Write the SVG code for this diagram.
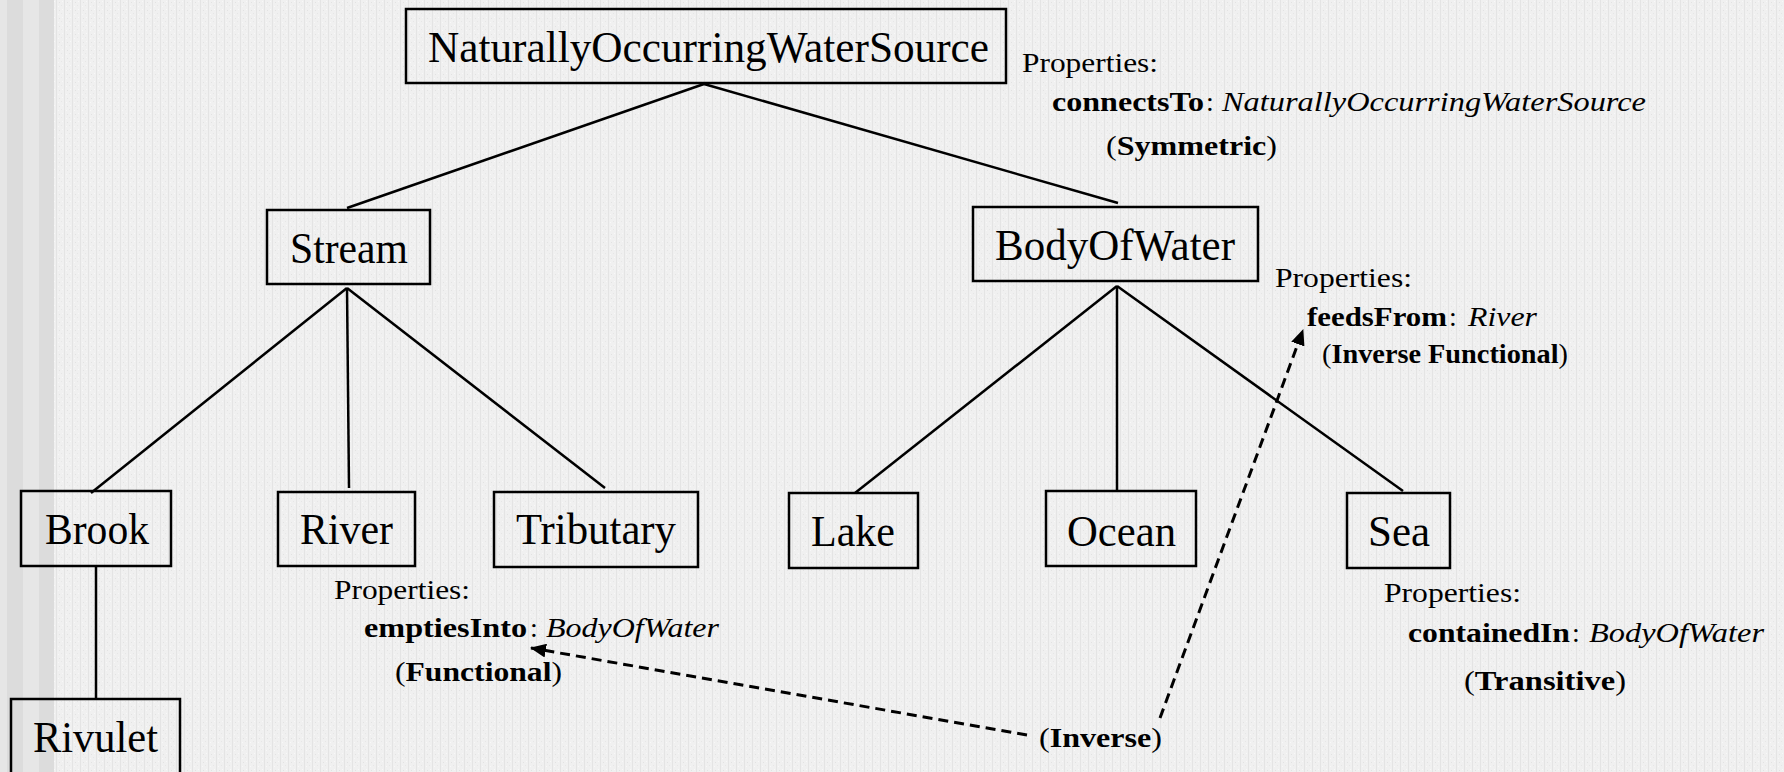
<svg xmlns="http://www.w3.org/2000/svg" width="1784" height="772" viewBox="0 0 1784 772">
<defs>
<pattern id="tex" width="8" height="8" patternUnits="userSpaceOnUse">
<rect width="8" height="8" fill="#f0f0f0"/>
<rect x="0" y="0" width="1" height="8" fill="#e4e4e4"/>
<rect x="3" y="2" width="1" height="1" fill="#e2e2e2"/>
<rect x="5" y="5" width="1" height="1" fill="#e6e6e6"/>
<rect x="6" y="1" width="1" height="1" fill="#f8f8f8"/>
<rect x="2" y="6" width="1" height="1" fill="#f8f8f8"/>
</pattern>
<marker id="ah" markerUnits="userSpaceOnUse" markerWidth="16" markerHeight="14" refX="15" refY="7" orient="auto">
<path d="M0,0 L16,7 L0,14 z" fill="#000"/>
</marker>
<style>
.box{fill:none;stroke:#000;stroke-width:2.5}
.ln{stroke:#000;stroke-width:2.5;fill:none}
.dash{stroke:#000;stroke-width:3;fill:none;stroke-dasharray:10 6}
.lbl{font-family:"Liberation Serif","Times New Roman",Tinos,serif;font-size:44px;fill:#000}
.pt{font-family:"Liberation Serif","Times New Roman",Tinos,serif;font-size:28px;fill:#000}
.b{font-weight:bold}
.i{font-style:italic}
</style>
</defs>
<rect width="1784" height="772" fill="url(#tex)"/>
<rect x="0" y="0" width="7" height="772" fill="#e6e6e6"/>
<rect x="7" y="0" width="16" height="772" fill="#dcdcdc"/>
<rect x="23" y="0" width="16" height="772" fill="#e6e6e6"/>
<rect x="39" y="0" width="15" height="772" fill="#dcdcdc"/>

<g id="connectors">
<line class="ln" x1="704" y1="84" x2="347" y2="208"/>
<line class="ln" x1="704" y1="84" x2="1118" y2="203"/>
<line class="ln" x1="347" y1="288" x2="91" y2="493"/>
<line class="ln" x1="347" y1="288" x2="349" y2="488"/>
<line class="ln" x1="347" y1="288" x2="605" y2="488"/>
<line class="ln" x1="1117" y1="286" x2="855" y2="493"/>
<line class="ln" x1="1117" y1="286" x2="1117" y2="491"/>
<line class="ln" x1="1117" y1="286" x2="1403" y2="491"/>
<line class="ln" x1="96" y1="566" x2="96" y2="699"/>
<line class="dash" x1="1027" y1="735" x2="531" y2="648" marker-end="url(#ah)"/>
<line class="dash" x1="1160" y1="718" x2="1303" y2="330" marker-end="url(#ah)"/>
</g>

<g id="node-nows">
<rect class="box" x="406" y="9" width="600" height="74"/>
<text class="lbl" x="428" y="62" textLength="561" lengthAdjust="spacingAndGlyphs">NaturallyOccurringWaterSource</text>
</g>
<g id="node-stream">
<rect class="box" x="267" y="210" width="163" height="74"/>
<text class="lbl" x="290" y="263" textLength="118" lengthAdjust="spacingAndGlyphs">Stream</text>
</g>
<g id="node-bodyofwater">
<rect class="box" x="973" y="207" width="285" height="74"/>
<text class="lbl" x="995" y="260" textLength="240" lengthAdjust="spacingAndGlyphs">BodyOfWater</text>
</g>
<g id="node-brook">
<rect class="box" x="21" y="491" width="150" height="75"/>
<text class="lbl" x="45" y="544" textLength="104" lengthAdjust="spacingAndGlyphs">Brook</text>
</g>
<g id="node-river">
<rect class="box" x="278" y="492" width="137" height="74"/>
<text class="lbl" x="300" y="544" textLength="93" lengthAdjust="spacingAndGlyphs">River</text>
</g>
<g id="node-tributary">
<rect class="box" x="494" y="492" width="204" height="75"/>
<text class="lbl" x="516" y="544" textLength="160" lengthAdjust="spacingAndGlyphs">Tributary</text>
</g>
<g id="node-lake">
<rect class="box" x="789" y="493" width="129" height="75"/>
<text class="lbl" x="811" y="546" textLength="84" lengthAdjust="spacingAndGlyphs">Lake</text>
</g>
<g id="node-ocean">
<rect class="box" x="1046" y="491" width="150" height="75"/>
<text class="lbl" x="1067" y="546" textLength="109" lengthAdjust="spacingAndGlyphs">Ocean</text>
</g>
<g id="node-sea">
<rect class="box" x="1347" y="493" width="103" height="75"/>
<text class="lbl" x="1368" y="546" textLength="62" lengthAdjust="spacingAndGlyphs">Sea</text>
</g>
<g id="node-rivulet">
<rect class="box" x="11" y="699" width="169" height="80"/>
<text class="lbl" x="33" y="752" textLength="125" lengthAdjust="spacingAndGlyphs">Rivulet</text>
</g>

<g id="props-nows">
<text class="pt" x="1022" y="72" textLength="136" lengthAdjust="spacingAndGlyphs">Properties:</text>
<text class="pt b" x="1052" y="111" textLength="152" lengthAdjust="spacingAndGlyphs">connectsTo</text>
<text class="pt" x="1206" y="111">:</text>
<text class="pt i" x="1222" y="111" textLength="424" lengthAdjust="spacingAndGlyphs">NaturallyOccurringWaterSource</text>
<text class="pt" x="1106" y="155" textLength="171" lengthAdjust="spacingAndGlyphs">(<tspan class="b">Symmetric</tspan>)</text>
</g>
<g id="props-bodyofwater">
<text class="pt" x="1275" y="287" textLength="137" lengthAdjust="spacingAndGlyphs">Properties:</text>
<text class="pt b" x="1307" y="326" textLength="140" lengthAdjust="spacingAndGlyphs">feedsFrom</text>
<text class="pt" x="1449" y="326">:</text>
<text class="pt i" x="1468" y="326" textLength="69" lengthAdjust="spacingAndGlyphs">River</text>
<text class="pt" x="1322" y="363" textLength="246" lengthAdjust="spacingAndGlyphs">(<tspan class="b">Inverse Functional</tspan>)</text>
</g>
<g id="props-river">
<text class="pt" x="334" y="599" textLength="136" lengthAdjust="spacingAndGlyphs">Properties:</text>
<text class="pt b" x="364" y="637" textLength="163" lengthAdjust="spacingAndGlyphs">emptiesInto</text>
<text class="pt" x="530" y="637">:</text>
<text class="pt i" x="546" y="637" textLength="173" lengthAdjust="spacingAndGlyphs">BodyOfWater</text>
<text class="pt" x="395" y="681" textLength="167" lengthAdjust="spacingAndGlyphs">(<tspan class="b">Functional</tspan>)</text>
</g>
<g id="props-sea">
<text class="pt" x="1384" y="602" textLength="137" lengthAdjust="spacingAndGlyphs">Properties:</text>
<text class="pt b" x="1408" y="642" textLength="162" lengthAdjust="spacingAndGlyphs">containedIn</text>
<text class="pt" x="1572" y="642">:</text>
<text class="pt i" x="1589" y="642" textLength="175" lengthAdjust="spacingAndGlyphs">BodyOfWater</text>
<text class="pt" x="1464" y="690" textLength="162" lengthAdjust="spacingAndGlyphs">(<tspan class="b">Transitive</tspan>)</text>
</g>
<g id="label-inverse">
<text class="pt" x="1039" y="747" textLength="123" lengthAdjust="spacingAndGlyphs">(<tspan class="b">Inverse</tspan>)</text>
</g>
</svg>
